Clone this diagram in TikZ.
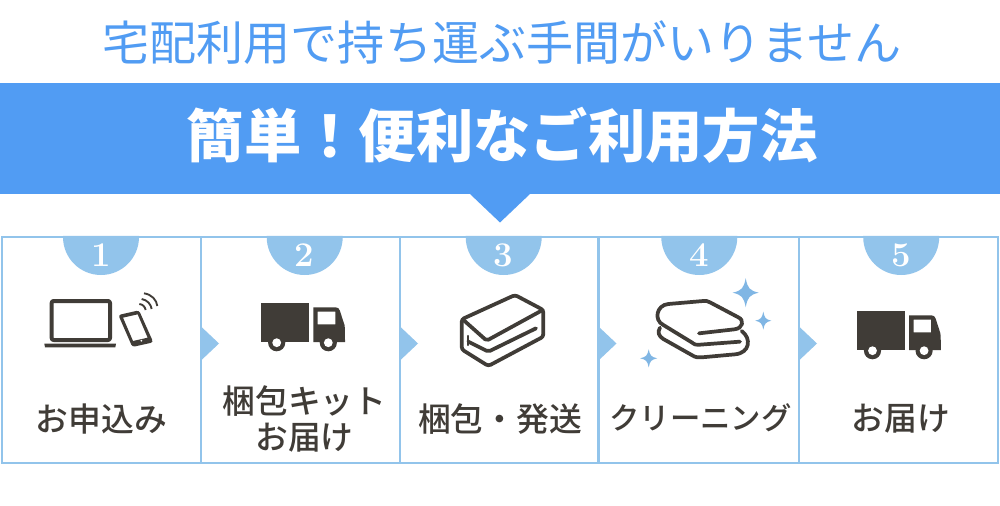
\documentclass[tikz,border=0pt]{standalone}
\usepackage{fontspec}
\newfontfamily\cjk{Noto Sans CJK JP}
\newfontfamily\cjkm{Noto Sans CJK JP Medium}
\definecolor{headblue}{HTML}{519CF3}
\definecolor{pale}{HTML}{92C4EB}
\definecolor{star}{HTML}{80B6E4}
\definecolor{ink}{HTML}{403C37}
\newcommand{\trucksymbol}[1]{%
  \begin{scope}[shift={#1}]
    \fill[ink] (261.3,303.3) rectangle (308.7,342);
    \fill[ink,even odd rule] (313.3,307.3) -- (335.5,307.3) .. controls (338,307.3) and (339,308.5) .. (339.8,310.5) -- (344.5,325) .. controls (345,327) and (345,335) .. (345,342) -- (313.3,342) -- cycle
      (317.7,311.7) rectangle (335.3,324.3);
    \foreach \wx in {276.7,328.3}{
      \fill[ink] (\wx,342.7) circle[radius=8.6];
      \fill[white] (\wx,342.7) circle[radius=4.4];
    }
  \end{scope}}
\newcommand{\sparkle}[4]{%
  \fill[star] (#1,#2-#4) .. controls (#1+0.15*#3,#2-0.3*#4) and (#1+0.3*#3,#2-0.15*#4) .. (#1+#3,#2)
   .. controls (#1+0.3*#3,#2+0.15*#4) and (#1+0.15*#3,#2+0.3*#4) .. (#1,#2+#4)
   .. controls (#1-0.15*#3,#2+0.3*#4) and (#1-0.3*#3,#2+0.15*#4) .. (#1-#3,#2)
   .. controls (#1-0.3*#3,#2-0.15*#4) and (#1-0.15*#3,#2-0.3*#4) .. (#1,#2-#4) -- cycle;}
\tikzset{
  title text/.style={inner sep=0pt,text=headblue,font=\cjk\fontsize{35.3}{36}\selectfont},
  head text/.style={inner sep=0pt,text=white,font=\cjk\bfseries\fontsize{43}{43}\selectfont},
  step label/.style={inner sep=0pt,text=ink,align=center,font=\cjkm\fontsize{24.6}{27}\selectfont},
  step number/.style={inner sep=0pt,text=white,font=\bfseries\fontsize{26}{26}\selectfont},
  frame line/.style={draw=pale,line width=1.8pt},
  icon line/.style={draw=ink,line width=2.8pt,line join=round,line cap=round},
}
\begin{document}
\begin{tikzpicture}[x=0.75pt,y=-0.75pt]
\useasboundingbox (0,0) rectangle (1000,506);
\fill[white] (0,0) rectangle (1000,506);
% header
\fill[headblue] (0,83) rectangle (1000,194);
\fill[headblue] (470,194) -- (530,194) -- (500,222.5) -- cycle;
\node[title text] (title) at (502,42.5) {宅配利用で持ち運ぶ手間がいりません};
\node[head text] (head) at (502,135.5) {簡単！便利なご利用方法};
% frame
\draw[frame line] (2,237) rectangle (998,463);
\foreach \dx in {201,400,598.5,799}{
  \draw[frame line] (\dx,237) -- (\dx,463);
  \fill[pale] (\dx,326.5) -- (\dx+18,343.5) -- (\dx,360.5) -- cycle;
}
% numbered tabs
\foreach \cx/\nm/\lab in {101/a/1,304.7/b/2,503.7/c/3,699.3/d/4,901.2/e/5}{
  \fill[pale] (\cx-38,236) -- (\cx+38,236) -- (\cx+38,237) arc[start angle=0,end angle=180,radius=38] -- cycle;
  \node[step number] (num\nm) at (\cx,255.5) {\lab};
}
% labels
\node[step label] (lab1) at (101.5,419) {お申込み};
\node[step label] (lab2) at (304.5,418.5) {梱包キット\\お届け};
\node[step label] (lab3) at (500,419) {梱包・発送};
\node[step label,font=\cjkm\fontsize{22.8}{27}\selectfont] (lab4) at (700.5,418) {クリーニング};
\node[step label] (lab5) at (901,419) {お届け};
% laptop and phone
\begin{scope}[shift={(40,285)},x=0.25pt,y=-0.25pt]
  \draw[icon line,line width=3pt,rounded corners=1.5pt] (35,48) rectangle (210,165);
  \fill[ink] (13,176) -- (228,176) -- (226,187) -- (15,187) -- cycle;
  \fill[ink,even odd rule,rounded corners=2pt] (235,90) -- (297,76) -- (340,172) -- (277,186) -- cycle
    (249,98) [sharp corners] -- (293,88) -- (323,158) -- (279,168) -- cycle;
  \fill[white] (304,167) circle[radius=3];
  \draw[draw=ink,line width=1.4pt] (298,57) .. controls (308,58) and (315,65) .. (317,75);
  \draw[draw=ink,line width=1.4pt] (305,42) .. controls (322,45) and (333,58) .. (335,72);
  \draw[draw=ink,line width=1.4pt] (312,25) .. controls (335,28) and (350,45) .. (352,63);
\end{scope}
% trucks
\trucksymbol{(0,0)}
\trucksymbol{(595.8,8)}
% box
\begin{scope}[shift={(400,230)},x=0.25pt,y=-0.25pt]
  \draw[icon line,rounded corners=2pt] (345,195) -- (430,240) -- (430,320) -- (265,408) -- (185,358) -- (185,268) -- cycle;
  \draw[icon line,rounded corners=1.5pt] (188,268) -- (260,332) -- (428,240);
  \draw[icon line,rounded corners=1.5pt] (205,335) -- (265,365) -- (408,295);
  \draw[icon line,line width=1.6pt] (205,318) -- (205,345);
\end{scope}
% towels
\begin{scope}[shift={(635,275)},x=0.25pt,y=-0.25pt]
  \draw[icon line] (192,175) -- (298,163) .. controls (325,160) and (328,135) .. (310,127) -- (225,82) .. controls (218,78) and (212,77) .. (205,78) -- (100,87) .. controls (65,90) and (55,135) .. (85,150) -- (170,202) .. controls (180,210) and (185,210) .. (195,209) -- (315,200);
  \draw[icon line] (75,158) .. controls (66,172) and (72,184) .. (85,192) -- (170,240) .. controls (180,247) and (190,248) .. (200,247) -- (300,238) .. controls (345,234) and (350,190) .. (320,168);
\end{scope}
\sparkle{745.7}{292.7}{13}{14.5}
\sparkle{763.3}{320.7}{8}{9}
\sparkle{648.7}{358.3}{8.5}{9}
\end{tikzpicture}
\end{document}
